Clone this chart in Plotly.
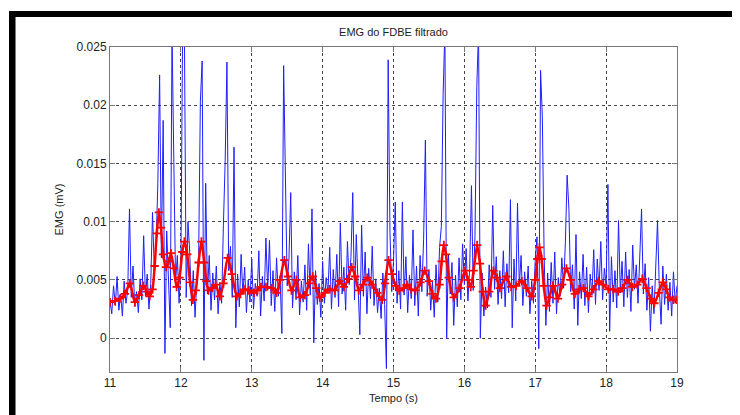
import numpy as np
import plotly.graph_objects as go

emg_raw = [
    0.0032, 0.0021, 0.0045, 0.0028, 0.0053, 0.0024, 0.0038, 0.0019, 0.0049, 0.0030,
    0.0041, 0.0111, 0.0035, 0.0062, 0.0027, 0.0040, 0.0022, 0.0051, 0.0033, 0.0088,
    0.0036, 0.0055, 0.0025, 0.0047, 0.0108, 0.0058, 0.0079, 0.0133, 0.0226, 0.0069,
    0.0187, -0.0013, 0.0092, 0.0055, 0.0009, 0.0262, 0.0168, 0.0048, 0.0071, 0.0030,
    0.0062, 0.0270, 0.0262, 0.0035, 0.0100, 0.0074, 0.0028, 0.0058, 0.0018, 0.0049,
    0.0065, 0.0203, 0.0238, -0.0019, 0.0133, 0.0038, 0.0071, 0.0024, 0.0056, 0.0033,
    0.0062, 0.0021, 0.0048, 0.0030, 0.0097, 0.0152, 0.0237, 0.0058, 0.0079, 0.0035,
    0.0164, 0.0009, 0.0055, 0.0027, 0.0072, 0.0038, 0.0061, 0.0022, 0.0050, 0.0031,
    0.0068, 0.0025, 0.0047, 0.0036, 0.0075, 0.0019, 0.0053, 0.0032, 0.0086, 0.0041,
    0.0084, 0.0028, 0.0058, 0.0023, 0.0069, 0.0036, 0.0052, 0.0004, 0.0234, 0.0147,
    0.0045, 0.0068, 0.0125, 0.0026, 0.0057, 0.0033, 0.0071, 0.0020, 0.0049, 0.0031,
    0.0063, 0.0024, 0.0081, 0.0037, 0.0111, -0.0004, 0.0058, 0.0029, 0.0047, 0.0018,
    0.0066, 0.0030, 0.0052, 0.0039, 0.0078, 0.0025, 0.0059, 0.0035, 0.0072, 0.0027,
    0.0099, 0.0038, 0.0061, 0.0024, 0.0083, 0.0046, 0.0070, 0.0125, 0.0033, 0.0089,
    0.0041, 0.0003, 0.0097, 0.0036, 0.0074, 0.0021, 0.0060, 0.0034, 0.0079, 0.0028,
    0.0051, 0.0022, 0.0043, 0.0017, 0.0056, 0.0029, -0.0026, 0.0239, 0.0091, 0.0040,
    0.0066, 0.0117, 0.0030, 0.0058, 0.0025, 0.0117, 0.0037, 0.0070, 0.0022, 0.0054,
    0.0034, 0.0093, 0.0028, 0.0062, 0.0019, 0.0071, 0.0040, 0.0085, 0.0170, 0.0036,
    0.0059, 0.0024, 0.0048, 0.0018, 0.0063, 0.0031, 0.0078, 0.0096, 0.0209, 0.0265,
    0.0000, 0.0072, 0.0038, 0.0065, 0.0011, 0.0054, 0.0027, 0.0069, 0.0033, 0.0081,
    0.0046, 0.0077, 0.0032, 0.0060, 0.0131, 0.0041, 0.0088, 0.0215, 0.0265, 0.0000,
    0.0056, 0.0019, 0.0044, 0.0026, 0.0063, 0.0035, 0.0114, 0.0042, 0.0070, 0.0029,
    0.0058, 0.0034, 0.0075, 0.0027, 0.0064, 0.0039, 0.0119, 0.0009, 0.0068, 0.0032,
    0.0116, 0.0045, 0.0071, 0.0028, 0.0057, 0.0036, 0.0062, 0.0021, 0.0049, 0.0030,
    0.0068, 0.0087, -0.0009, 0.0230, 0.0190, 0.0072, 0.0011, 0.0056, 0.0023, 0.0065,
    0.0030, 0.0074, 0.0021, 0.0052, 0.0036, 0.0069, 0.0043, 0.0082, 0.0140, 0.0111,
    0.0040, 0.0063, 0.0025, 0.0089, 0.0011, 0.0057, 0.0034, 0.0072, 0.0028, 0.0061,
    0.0022, 0.0055, 0.0037, 0.0076, 0.0029, 0.0068, 0.0041, 0.0083, 0.0033, 0.0060,
    0.0045, 0.0132, 0.0006, 0.0070, 0.0031, 0.0058, 0.0026, 0.0101, 0.0039, 0.0066,
    0.0027, 0.0074, 0.0035, 0.0059, 0.0023, 0.0080, 0.0042, 0.0063, 0.0030, 0.0071,
    0.0111, 0.0038, 0.0064, 0.0024, 0.0052, 0.0006, 0.0045, 0.0021, 0.0067, 0.0101,
    0.0044, 0.0012, 0.0062, 0.0029, 0.0055, 0.0024, 0.0048, 0.0019, 0.0057, 0.0030,
    0.0045,
]
t_start = 11.0
t_end = 19.0
emg_time = np.linspace(t_start, t_end, len(emg_raw))

# Filtered envelope (red)
filt_time = [
    11.00, 11.07, 11.14, 11.21, 11.28, 11.35, 11.41, 11.47, 11.52, 11.56,
    11.60, 11.63, 11.66, 11.69, 11.72, 11.75, 11.79, 11.83, 11.86, 11.90,
    11.94, 11.98, 12.02, 12.05, 12.09, 12.13, 12.17, 12.21, 12.25, 12.29,
    12.33, 12.36, 12.39, 12.44, 12.49, 12.55, 12.60, 12.66, 12.72, 12.79,
    12.84, 12.89, 12.96, 13.03, 13.08, 13.13, 13.20, 13.28, 13.35, 13.40,
    13.46, 13.51, 13.56, 13.63, 13.68, 13.75, 13.81, 13.86, 13.91, 13.96,
    14.03, 14.10, 14.17, 14.24, 14.30, 14.36, 14.41, 14.46, 14.51, 14.57,
    14.63, 14.70, 14.77, 14.84, 14.88, 14.93, 14.98, 15.03, 15.08, 15.14,
    15.19, 15.25, 15.31, 15.38, 15.44, 15.50, 15.55, 15.60, 15.65, 15.68,
    15.71, 15.74, 15.78, 15.85, 15.93, 16.01, 16.05, 16.09, 16.13, 16.18,
    16.22, 16.26, 16.30, 16.35, 16.41, 16.46, 16.50, 16.59, 16.66, 16.73,
    16.81, 16.88, 16.95, 17.00, 17.03, 17.06, 17.09, 17.12, 17.16, 17.20,
    17.25, 17.32, 17.38, 17.44, 17.50, 17.56, 17.62, 17.68, 17.75, 17.82,
    17.89, 17.96, 18.03, 18.10, 18.17, 18.23, 18.30, 18.37, 18.44, 18.51,
    18.57, 18.63, 18.68, 18.74, 18.80, 18.85, 18.89, 18.95, 19.00,
]
filt_value = [
    0.0031, 0.0032, 0.0034, 0.0038, 0.0047, 0.0031, 0.0037, 0.0045, 0.0040, 0.0036,
    0.0042, 0.0062, 0.0090, 0.0108, 0.0095, 0.0072, 0.0061, 0.0066, 0.0073, 0.0060,
    0.0044, 0.0052, 0.0074, 0.0083, 0.0072, 0.0048, 0.0033, 0.0041, 0.0065, 0.0083,
    0.0065, 0.0049, 0.0041, 0.0043, 0.0046, 0.0036, 0.0047, 0.0069, 0.0055, 0.0036,
    0.0038, 0.0042, 0.0041, 0.0039, 0.0041, 0.0044, 0.0044, 0.0043, 0.0039, 0.0050,
    0.0067, 0.0053, 0.0041, 0.0050, 0.0035, 0.0037, 0.0047, 0.0053, 0.0043, 0.0035,
    0.0039, 0.0042, 0.0041, 0.0049, 0.0044, 0.0051, 0.0061, 0.0053, 0.0041, 0.0046,
    0.0052, 0.0046, 0.0039, 0.0033, 0.0047, 0.0067, 0.0055, 0.0045, 0.0041, 0.0043,
    0.0046, 0.0042, 0.0041, 0.0048, 0.0058, 0.0049, 0.0038, 0.0034, 0.0046, 0.0066,
    0.0080, 0.0072, 0.0052, 0.0035, 0.0043, 0.0058, 0.0050, 0.0044, 0.0058, 0.0080,
    0.0064, 0.0040, 0.0028, 0.0040, 0.0058, 0.0052, 0.0043, 0.0053, 0.0044, 0.0045,
    0.0049, 0.0043, 0.0036, 0.0050, 0.0068, 0.0078, 0.0068, 0.0045, 0.0028, 0.0035,
    0.0045, 0.0034, 0.0046, 0.0060, 0.0050, 0.0038, 0.0042, 0.0043, 0.0036, 0.0042,
    0.0049, 0.0046, 0.0042, 0.0042, 0.0040, 0.0043, 0.0050, 0.0044, 0.0046, 0.0051,
    0.0043, 0.0034, 0.0030, 0.0039, 0.0048, 0.0042, 0.0035, 0.0033, 0.0033,
]

x_ticks = [11, 12, 13, 14, 15, 16, 17, 18, 19]
y_ticks = [0, 0.005, 0.01, 0.015, 0.02, 0.025]
y_tick_text = ["0", "0.005", "0.01", "0.015", "0.02", "0.025"]

fig = go.Figure()
fig.add_trace(go.Scatter(
    x=emg_time, y=emg_raw, mode="lines",
    line=dict(color="rgb(30,30,255)", width=1), showlegend=False,
))
fig.add_trace(go.Scatter(
    x=filt_time, y=filt_value, mode="lines+markers",
    line=dict(color="rgb(255,0,0)", width=2.5, shape="spline", smoothing=0.7),
    marker=dict(symbol="cross-thin", size=6, line=dict(color="rgb(255,0,0)", width=1.8)),
    showlegend=False,
))

# The page body has an 8px margin, so the figure is 8px smaller and shifted.
OFF = 8
FW, FH = 740 - OFF, 415 - OFF
# Plot area in screen pixels: left 110, right 677, top 47, bottom 372
L, R, T, B = 110 - OFF, 677 - OFF, 47 - OFF, 372 - OFF
W, H = R - L, B - T
def px(x):
    return (x - OFF - L) / W
def py(y):
    return (B - (y - OFF)) / H

# black window frame (top and left)
fig.add_shape(type="rect", xref="paper", yref="paper",
              x0=px(9), x1=px(745), y0=py(17), y1=py(11),
              fillcolor="black", line=dict(width=0), layer="above")
fig.add_shape(type="rect", xref="paper", yref="paper",
              x0=px(9), x1=px(15.5), y0=py(420), y1=py(11),
              fillcolor="black", line=dict(width=0), layer="above")

font_family = "Liberation Sans, Arial, sans-serif"
fig.update_layout(
    width=FW, height=FH,
    margin=dict(l=L, r=FW - R, t=T, b=FH - B),
    paper_bgcolor="white", plot_bgcolor="white",
    font=dict(family=font_family, size=11, color="#222"),
    title=dict(text="EMG do FDBE filtrado", x=(L + R) / 2 / FW, xanchor="center",
               y=1 - (32 - OFF) / FH, yanchor="middle", font=dict(size=11, color="#222")),
)
fig.update_xaxes(
    range=[11, 19], tickvals=x_ticks, ticktext=[str(v) for v in x_ticks],
    showgrid=True, gridcolor="#444", griddash="3px,3px", gridwidth=1,
    showline=True, linecolor="#777", linewidth=1, mirror="ticks",
    ticks="inside", ticklen=5, tickcolor="#777", zeroline=False,
    title=dict(text="Tempo (s)", standoff=4, font=dict(size=11)),
    tickfont=dict(size=12),
)
fig.update_yaxes(
    range=[-0.0029, 0.025], tickvals=y_ticks, ticktext=y_tick_text,
    showgrid=True, gridcolor="#444", griddash="3px,3px", gridwidth=1,
    showline=True, linecolor="#777", linewidth=1, mirror="ticks",
    ticks="inside", ticklen=5, tickcolor="#777", zeroline=False,
    title=dict(text="EMG (mV)", standoff=10, font=dict(size=11)),
    tickfont=dict(size=12),
)

fig.write_html("out.html")
